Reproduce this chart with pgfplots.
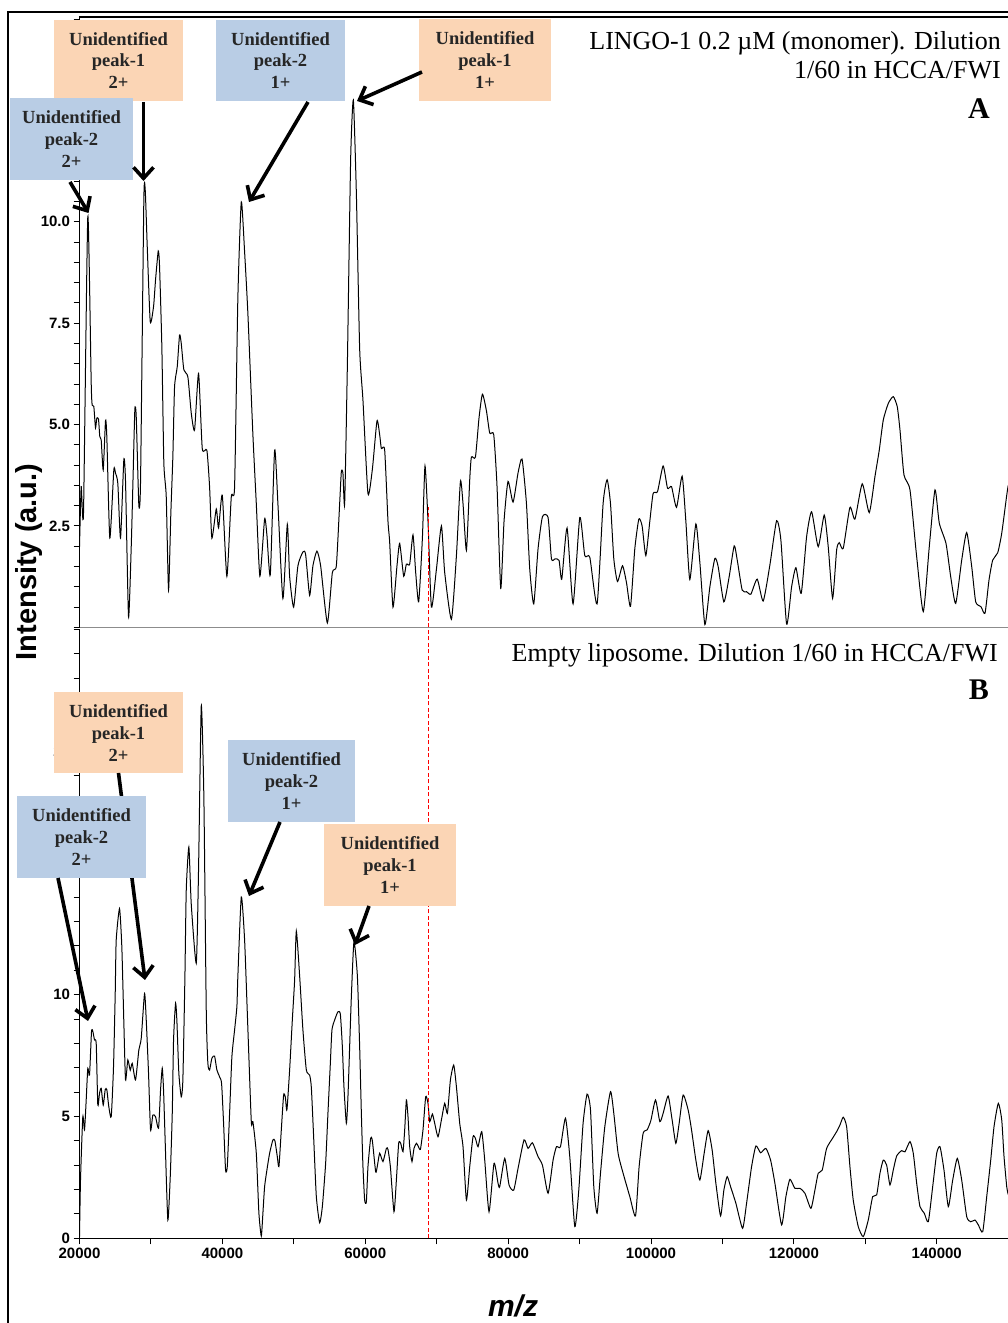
\documentclass[border=0pt]{standalone}
\usepackage{pgfplots}
\usepackage{pgfplotstable}
\pgfplotsset{compat=1.18}
\usepackage{fontspec}
\setmainfont{Liberation Serif}
\setsansfont{Liberation Sans}
\usetikzlibrary{arrows.meta}
\definecolor{boxorange}{RGB}{251,213,181}
\definecolor{boxblue}{RGB}{185,205,229}

\pgfplotstableread{
x y
20000 1.99
20238 3.47
20560 2.82
21162 10.13
21639 6.02
21779 5.48
22003 5.45
22241 4.92
22423 5.16
22661 5.13
22843 4.70
23039 4.62
23319 3.88
23642 5.10
23824 4.70
24244 2.20
24804 3.88
25042 3.80
25364 3.55
25742 2.20
26205 4.13
26443 3.60
26863 0.26
27241 1.99
27465 3.47
27745 5.36
27941 5.20
28306 3.02
28544 3.60
29006 10.54
29202 10.78
29482 9.39
29902 7.54
30364 7.91
30645 8.57
31023 9.28
31205 8.90
31527 6.92
31807 4.05
32143 3.22
32465 0.92
32787 2.82
33068 4.21
33306 5.93
33684 6.43
34006 7.21
34244 7.00
34608 6.35
35168 6.18
35645 5.28
36107 4.87
36667 6.26
37185 4.41
37829 4.37
38208 3.47
38530 2.20
39146 2.92
39468 2.45
39987 3.26
40631 1.26
41247 3.22
41709 3.47
42171 8.15
42648 10.49
43110 9.26
43572 7.73
44272 4.75
44749 3.05
45253 1.26
45911 2.67
46233 2.28
46709 1.30
47312 4.37
47774 3.05
48474 0.71
49090 2.54
49413 1.26
49973 0.50
50575 1.52
51275 1.86
51653 1.80
52214 0.79
52676 1.52
53236 1.88
53754 1.52
54693 0.11
55393 1.35
55953 1.52
56416 3.05
56654 3.84
56878 3.80
57116 3.05
57494 6.45
57956 11.55
58334 13.00
58755 10.70
59217 6.87
59679 5.60
60379 3.30
60996 3.90
61640 5.09
62018 4.75
62256 4.41
62718 4.37
63180 2.62
63419 2.10
63881 0.50
64441 1.52
64819 2.07
65379 1.26
65757 1.56
66220 1.56
66682 2.28
67060 1.35
67480 0.63
67998 2.20
68363 3.98
68783 2.62
69259 0.50
69960 1.43
70660 2.50
71122 1.35
72061 0.20
72761 1.77
73321 3.60
73685 3.05
74161 1.90
74623 3.64
74861 4.20
75422 4.20
75926 5.17
76402 5.75
76962 5.34
77425 4.79
77985 4.75
78447 3.47
78965 0.96
79427 2.62
79988 3.60
80688 3.09
81388 3.81
81948 4.15
82565 3.05
83027 1.43
83587 0.58
84189 1.94
84805 2.73
85590 2.71
86066 1.69
86570 1.69
87130 1.65
87508 1.19
88251 2.45
89091 0.58
90030 2.71
90730 1.77
91431 1.73
92453 0.58
93293 3.05
93854 3.64
94330 3.05
94792 1.69
95310 1.13
96011 1.52
96571 1.10
97131 0.52
97733 1.94
98294 2.67
98756 2.50
99274 1.77
99834 2.62
100296 3.30
100913 3.35
101697 3.98
102313 3.43
102873 3.47
103574 2.96
104358 3.73
104876 2.62
105436 1.18
106277 2.55
106837 1.60
107538 0.07
108238 1.00
108938 1.70
109400 1.50
110199 0.63
110941 1.25
111641 2.01
112061 1.67
112762 0.92
113378 0.88
113980 0.82
114863 1.19
115703 0.65
116641 1.54
117580 2.63
118182 2.15
118980 0.08
119681 1.00
120283 1.47
121025 0.84
121782 2.24
122482 2.85
123406 1.99
124246 2.77
124806 1.99
125423 0.72
125983 1.91
126347 2.09
126907 1.95
127846 2.96
128547 2.67
129569 3.54
130549 2.83
131348 3.72
131950 4.37
132510 5.11
133211 5.52
133911 5.69
134471 5.44
134849 4.87
135409 3.76
136250 3.39
137188 1.74
138112 0.39
138952 1.99
139751 3.39
140353 2.57
141292 2.07
141950 1.25
142650 0.59
143491 1.66
144191 2.34
144891 1.50
145451 0.63
146194 0.51
146754 0.35
147314 1.17
147832 1.66
148532 1.84
149093 2.32
149794 3.26
150000 3.50
}\topdata

\pgfplotstableread{
x y
20000 0.07
20140 2.39
20462 4.99
20700 4.45
20938 5.68
21162 6.98
21401 6.70
21681 8.48
21863 8.50
22101 8.14
22339 8.00
22563 5.47
22801 5.95
23039 6.16
23319 5.47
23599 6.10
23824 6.10
24104 5.40
24440 4.99
24762 7.04
25000 10.06
25140 12.25
25602 13.53
25925 11.96
26205 8.88
26443 6.50
26765 7.32
27101 6.90
27381 7.18
27843 6.50
28306 7.73
28642 8.21
29104 10.05
29342 8.96
29664 6.77
29944 4.45
30266 5.06
30645 4.99
31065 4.52
31345 6.09
31583 6.98
31765 6.09
32003 3.90
32367 0.75
32703 2.53
32984 5.13
33166 8.14
33446 9.65
33628 8.96
33908 6.77
34244 5.81
34468 6.50
34748 10.60
34944 14.30
35308 16.06
35645 13.71
36345 11.29
36667 15.18
37045 21.85
37409 18.10
37745 9.31
37969 7.18
38208 6.91
38530 7.39
38908 7.48
39230 6.91
39608 6.63
39889 6.36
40169 4.72
40449 2.80
40687 2.95
41009 5.13
41331 7.45
41709 8.55
42031 9.51
42171 10.78
42648 14.01
43110 12.25
43572 8.58
44048 4.79
44272 4.79
44749 3.49
45113 1.03
45449 0.09
45673 1.03
45911 2.12
46233 2.80
46611 3.49
47074 4.04
47354 4.00
47690 3.35
47914 2.94
48250 4.45
48572 5.88
48810 5.80
49034 5.27
49413 6.91
49791 8.96
50113 10.60
50351 12.61
50813 10.78
51275 8.55
51752 6.91
52214 6.70
52452 6.20
52774 4.17
53152 1.71
53614 0.64
53993 1.30
54455 3.08
54777 5.13
55113 7.18
55337 8.55
55715 8.96
56177 9.30
56514 9.20
56794 7.87
57018 6.22
57354 4.72
57578 5.81
57816 7.87
58054 9.92
58418 12.17
58895 10.78
59217 7.85
59455 5.13
59679 2.94
59917 1.57
60155 1.50
60379 2.94
60757 4.11
60996 4.00
61458 2.73
61696 2.97
62018 3.49
62480 3.15
62956 3.69
63180 3.65
63517 2.94
64021 1.09
64357 2.39
64679 3.90
64959 3.90
65281 3.56
65520 4.45
65758 5.68
65982 5.00
66220 3.76
66542 3.15
66822 3.69
67158 3.90
67382 3.80
67718 3.65
68082 4.45
68460 5.81
68783 5.54
69021 4.79
69399 5.10
69721 4.72
70184 4.17
70660 4.86
71122 5.54
71500 5.13
71920 6.50
72382 7.11
72761 6.22
73223 4.72
73685 3.76
74161 1.57
74623 2.94
75086 4.17
75422 4.10
75786 3.76
76304 4.38
76724 3.21
77327 1.09
78027 3.08
78587 2.26
78825 2.12
79526 3.28
80128 2.19
80786 1.98
81388 2.87
82229 4.04
82789 3.69
83405 3.92
84189 3.35
84805 3.00
85590 1.85
86290 3.21
86766 3.76
87326 3.76
88027 4.93
88629 3.35
89330 0.48
89890 1.98
90492 4.72
91052 5.92
91529 5.27
91991 2.12
92453 1.03
92929 2.67
93532 4.58
94330 6.02
94792 5.13
95394 3.49
96095 2.67
97033 1.71
97831 0.92
98335 2.94
98896 4.31
99456 4.45
99974 4.83
100632 5.68
101235 4.79
101697 5.13
102397 5.84
102957 4.86
103476 3.90
103938 4.72
104498 5.88
105198 5.27
105674 4.45
106277 3.21
106837 2.39
107440 3.49
108000 4.42
108560 3.62
109078 2.26
109737 0.92
110199 1.98
110661 2.53
111137 2.12
111879 1.44
112818 0.41
113378 1.44
114078 2.94
114681 3.79
115339 3.51
116081 3.69
116739 3.21
117342 2.26
118280 0.55
118882 1.71
119443 2.42
120143 2.05
120843 2.05
121544 1.85
122384 1.23
122944 1.98
123406 2.67
123966 2.80
124582 3.69
125423 4.11
126067 4.42
126446 4.65
126907 4.97
127384 4.58
127846 2.94
128308 1.57
129009 0.48
129709 0.07
130409 0.75
131026 1.71
131586 1.78
132048 2.67
132510 3.21
132986 3.00
133449 2.19
133911 2.80
134387 3.38
135087 3.60
135550 3.55
136250 3.97
136712 3.49
137188 2.26
137650 1.30
138252 1.03
138812 0.68
139429 2.12
139989 3.49
140452 3.76
141012 2.80
141614 1.30
142230 2.39
142874 3.28
143491 2.39
144191 0.89
144751 0.68
145353 0.75
145816 0.55
146432 0.27
146992 1.71
147552 3.21
148014 4.58
148616 5.54
149093 4.86
149415 3.35
149794 2.12
150000 1.80
}\botdata

\newcommand{\ubox}[7]{%
  \fill[#1] (#2,#3) rectangle (#4,#5);
  \node[font=\fontsize{18.5}{22}\selectfont\bfseries, text=black!85, align=center, inner sep=0pt]
    at ({(#2+#4)/2},{(#3+#5)/2}) {Unidentified\\peak-#6\\#7};
}

\begin{document}
\begin{tikzpicture}
\pgfplotsset{
  every axis/.append style={
    scale only axis, width=928.7pt, xmin=20000, xmax=150000,
    scaled x ticks=false, scaled y ticks=false,
    tick align=outside, major tick length=6pt, minor tick length=6pt,
    every tick/.style={black, line width=1pt},
    tick label style={font=\fontsize{15}{15}\selectfont\sffamily\bfseries},
  }
}
% top panel
\begin{axis}[at={(79.5pt,695.6pt)}, anchor=south west, height=610.4pt,
  ymin=0, ymax=15.05,
  axis y line*=left, axis x line*=bottom, xtick=\empty,
  ytick={0,2.5,5,7.5,10,12.5,15}, yticklabels={,2.5,5.0,7.5,10.0,,},
  minor y tick num=4,
  y axis line style={black, line width=1.2pt},
  x axis line style={black!45, line width=1.6pt},
]
\addplot[black, line width=1pt, smooth, tension=0.35] table {\topdata};
\addplot[red, line width=1.2pt, dash pattern=on 4pt off 2.5pt] coordinates {(68840,0) (68840,2.97)};
\end{axis}
% bottom panel
\begin{axis}[at={(79.5pt,84.7pt)}, anchor=south west, height=609pt,
  ymin=0, ymax=25,
  axis lines*=left, axis line style={black, line width=1.2pt},
  xtick={20000,40000,60000,80000,100000,120000,140000},
  xticklabels={20000,40000,60000,80000,100000,120000,140000},
  minor xtick={30000,50000,70000,90000,110000,130000},
  ytick={0,5,10,15,20,25}, yticklabels={0,5,10,,20,},
  minor y tick num=4,
]
\addplot[black, line width=1pt, smooth, tension=0.35] table {\botdata};
\addplot[red, line width=1.2pt, dash pattern=on 4pt off 2.5pt] coordinates {(68840,0) (68840,25)};
\end{axis}

\begin{scope}[shift={(0pt,1323pt)}, x=1pt, y=-1pt]
  % frame
  \draw[black, line width=2pt] (8,1330) -- (8,12.5) -- (1010,12.5);
  \draw[black, line width=1.3pt] (78.9,17) -- (1010,17);
  % titles
  \node[anchor=base east, font=\fontsize{26}{30}\selectfont, inner sep=0pt] at (1001,50) {LINGO-1 0.2 µM (monomer). Dilution};
  \node[anchor=base east, font=\fontsize{26}{30}\selectfont, inner sep=0pt] at (1001,79) {1/60 in HCCA/FWI};
  \node[anchor=base east, font=\fontsize{30}{30}\selectfont\bfseries, inner sep=0pt] at (990,119) {A};
  \node[anchor=base east, font=\fontsize{26}{30}\selectfont, inner sep=0pt] at (998,662) {Empty liposome. Dilution 1/60 in HCCA/FWI};
  \node[anchor=base east, font=\fontsize{30}{30}\selectfont\bfseries, inner sep=0pt] at (989,700) {B};
  % axis titles
  \node[rotate=90, font=\fontsize{29}{29}\selectfont\sffamily\bfseries] at (29,562) {Intensity (a.u.)};
  \node[anchor=base, font=\fontsize{30}{30}\selectfont\sffamily\bfseries\itshape] at (513,1317) {m/z};
  % top annotations
  \ubox{boxorange}{54}{20}{183}{101}{1}{2+}
  \ubox{boxblue}{216}{20}{345}{101}{2}{1+}
  \ubox{boxorange}{419}{19}{551}{101}{1}{1+}
  \ubox{boxblue}{10}{98}{133}{180}{2}{2+}
  \begin{scope}[line width=3.6pt, -{Straight Barb[length=11pt, width=20pt]}]
    \draw (70,182) -- (88.5,213);
    \draw (143.5,102) -- (143.5,181);
    \draw (308,102) -- (249,202);
    \draw (422,72) -- (357,101);
  \end{scope}
  % bottom annotations
  \ubox{boxorange}{54}{692}{183}{773}{1}{2+}
  \draw[line width=3.6pt, -{Straight Barb[length=11pt, width=20pt]}] (118.5,773) -- (145,980);
  \ubox{boxblue}{17}{796}{146}{878}{2}{2+}
  \ubox{boxblue}{228}{740}{355}{822}{2}{1+}
  \ubox{boxorange}{324}{824}{456}{906}{1}{1+}
  \begin{scope}[line width=3.6pt, -{Straight Barb[length=11pt, width=20pt]}]
    \draw (58,878) -- (88,1021);
    \draw (280,822) -- (249,896);
    \draw (369,906) -- (355,945);
  \end{scope}
\end{scope}
\pgfresetboundingbox
\path[use as bounding box] (0pt,0pt) rectangle (1007pt,1323pt);
\end{tikzpicture}
\end{document}
